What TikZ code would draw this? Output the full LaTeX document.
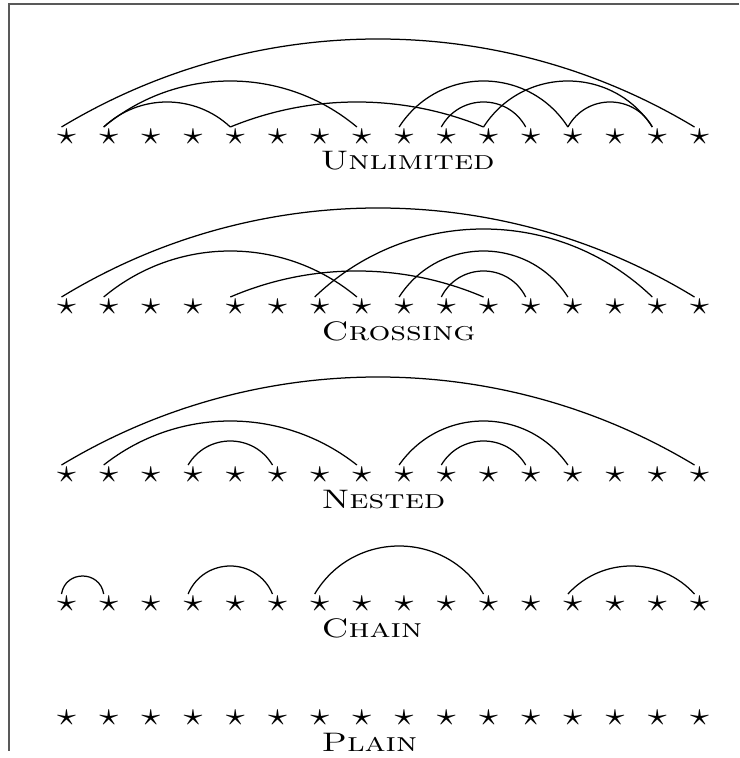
\documentclass[tikz,border=0pt]{standalone}
\usepackage{fontspec}
\tikzset{
  frameline/.style={draw=black!65, line width=0.6pt},
  starnode/.style={inner sep=0pt, font=\fontsize{10.5}{12}\selectfont},
  link/.style={draw=black, line width=0.5pt},
  rowlabel/.style={anchor=base west, inner sep=0pt, font=\fontsize{10.5}{12}\selectfont\scshape},
}
% a star, drawn a little wide
\newcommand\wstar{\scalebox{1.38}[1.2]{$\star$}}
% a row label, set wide
\newcommand\wlabel[1]{\scalebox{1.31}[1.02]{#1}}
% #1 row, #2 and #3 star indices, #4 height of the arc
\newcommand\linkarc[4]{%
  \pgfmathsetmacro\lklen{(#3-#2)*42.2}%
  \pgfmathsetmacro\lkang{2*atan(2*#4/\lklen)}%
  \pgfmathsetmacro\lkctl{#4/(0.75*sin(\lkang))}%
  \draw[link] ([shift={(-5,10)}]#1-#2.center) .. controls +(\lkang:\lkctl) and +(180-\lkang:\lkctl) .. ([shift={(-5,10)}]#1-#3.center);%
}
\begin{document}
\begin{tikzpicture}[x=0.4pt, y=0.4pt]
\useasboundingbox (0,0) rectangle (739,-758);
\draw[frameline] (739,-4) -- (9,-4) -- (9,-751);
% five rows of sixteen stars
\foreach \r/\y in {r1/137, r2/307, r3/475, r4/604, r5/718}{
  \foreach \i in {1,...,16}{
    \node[starnode] (\r-\i) at ({66.5+42.2*(\i-1)}, -\y) {\wstar};
  }
}
% unlimited
\linkarc{r1}{1}{16}{88}
\linkarc{r1}{2}{8}{46}
\linkarc{r1}{2}{5}{25}
\linkarc{r1}{5}{11}{25}
\linkarc{r1}{9}{13}{46}
\linkarc{r1}{10}{12}{25}
\linkarc{r1}{11}{15}{46}
\linkarc{r1}{13}{15}{25}
% crossing
\linkarc{r2}{1}{16}{89}
\linkarc{r2}{2}{8}{46}
\linkarc{r2}{7}{15}{68}
\linkarc{r2}{5}{11}{26}
\linkarc{r2}{9}{13}{46}
\linkarc{r2}{10}{12}{26}
% nested
\linkarc{r3}{1}{16}{88}
\linkarc{r3}{2}{8}{44}
\linkarc{r3}{4}{6}{24}
\linkarc{r3}{9}{13}{44}
\linkarc{r3}{10}{12}{24}
% chain
\linkarc{r4}{1}{2}{18}
\linkarc{r4}{4}{6}{28}
\linkarc{r4}{7}{11}{48}
\linkarc{r4}{13}{16}{28}
% row labels
\node[rowlabel] (l1) at (320,-170) {\wlabel{Unlimited}};
\node[rowlabel] (l2) at (321,-340) {\wlabel{Crossing}};
\node[rowlabel] (l3) at (321,-508) {\wlabel{Nested}};
\node[rowlabel] (l4) at (321,-637) {\wlabel{Chain}};
\node[rowlabel] (l5) at (321,-751) {\wlabel{Plain}};
\end{tikzpicture}
\end{document}
